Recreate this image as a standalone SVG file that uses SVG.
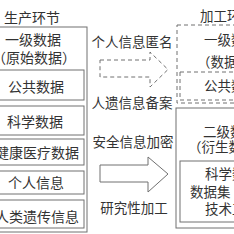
<svg xmlns="http://www.w3.org/2000/svg" width="234" height="234" viewBox="0 0 234 234">
<style>
text{font-family:"Noto Sans CJK SC","Noto Sans CJK JP",sans-serif;font-size:13.5px;fill:#333;dominant-baseline:central}
.c{text-anchor:middle}
.l{font-size:14px}
.box{fill:none;stroke:#707070;stroke-width:1}
.dash{fill:none;stroke:#707070;stroke-width:1;stroke-dasharray:4 3}
</style>
<rect width="234" height="234" fill="#fff"/>
<g id="production">
<text x="32" y="17" class="c l">生产环节</text>
<rect class="box" x="-13" y="27" width="100" height="205"/>
<text x="33" y="39" class="c l">一级数据</text>
<text x="34" y="57" class="c l">（原始数据）</text>
</g>
<g id="public-data"><rect class="box" x="-10" y="70" width="94" height="30"/><text x="36" y="86" class="c l">公共数据</text></g>
<g id="science-data"><rect class="box" x="-10" y="106" width="94" height="29"/><text x="35" y="121" class="c l">科学数据</text></g>
<g id="health-data"><rect class="box" x="-10" y="139" width="94" height="26"/><text x="37" y="152" class="c l">健康医疗数据</text></g>
<g id="personal-info"><rect class="box" x="-10" y="171" width="94" height="23"/><text x="36" y="182" class="c l">个人信息</text></g>
<g id="genetic-info"><rect class="box" x="-10" y="200" width="94" height="28"/><text x="37" y="216" class="c l">人类遗传信息</text></g>
<g id="connectors">
<path class="dash" d="M100,60 H150 V52 L168,69.5 L150,87 V77 H100 Z"/>
<text x="132" y="41" class="c">个人信息匿名</text>
<text x="132" y="102" class="c">人遗信息备案</text>
<path class="box" d="M100,165 H148 V157 L168,174 L148,192 V182 H100 Z"/>
<text x="133" y="141" class="c">安全信息加密</text>
<text x="134" y="207" class="c">研究性加工</text>
</g>
<g id="processing">
<text x="200" y="15">加工环节</text>
</g>
<g id="primary-processed">
<rect class="dash" x="177" y="25" width="70" height="78"/>
<text x="204" y="39">一级数据</text>
<text x="197" y="61">（数据</text>
</g>
<g id="public-processed">
<rect class="dash" x="180" y="72" width="65" height="28"/>
<text x="204" y="85">公共数据</text>
</g>
<g id="secondary">
<rect class="box" x="176" y="108" width="70" height="120"/>
<text x="203" y="131">二级数据</text>
<text x="188" y="146">（衍生数据</text>
</g>
<g id="science-dataset">
<rect class="box" x="180" y="161" width="65" height="61"/>
<text x="205" y="173">科学数据</text>
<text x="190" y="191">数据集</text>
<text x="205" y="208">技术工</text>
</g>
</svg>
